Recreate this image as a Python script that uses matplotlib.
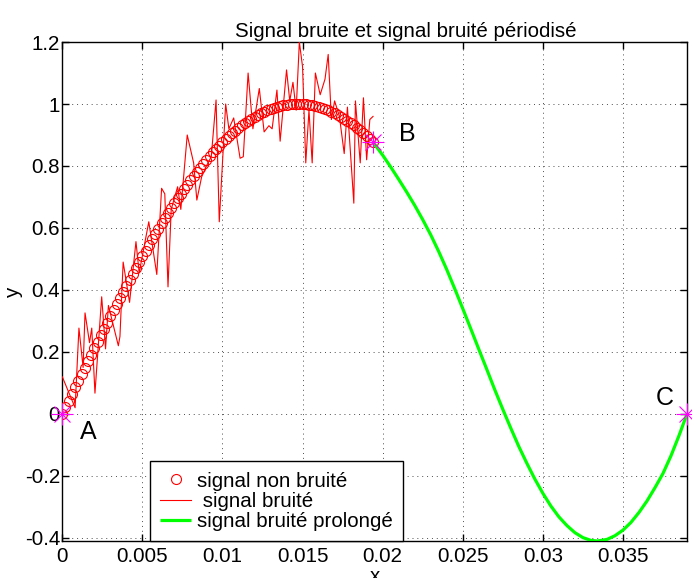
import matplotlib
matplotlib.use('Agg')
import matplotlib.pyplot as plt
import numpy as np

plt.rcParams['font.family'] = ['Liberation Sans', 'DejaVu Sans']
plt.rcParams['axes.unicode_minus'] = False

# ---------------- data ----------------
t_step = 0.0002
clean_y = [0.0000, 0.0214, 0.0427, 0.0640, 0.0853, 0.1066, 0.1278, 0.1490, 0.1701, 0.1911,
           0.2120, 0.2328, 0.2536, 0.2742, 0.2946, 0.3150, 0.3352, 0.3552, 0.3751, 0.3948,
           0.4144, 0.4337, 0.4529, 0.4718, 0.4905, 0.5090, 0.5273, 0.5453, 0.5631, 0.5807,
           0.5979, 0.6149, 0.6316, 0.6481, 0.6642, 0.6800, 0.6955, 0.7107, 0.7256, 0.7401,
           0.7543, 0.7681, 0.7816, 0.7947, 0.8075, 0.8200, 0.8319, 0.8436, 0.8548, 0.8657,
           0.8763, 0.8863, 0.8961, 0.9054, 0.9142, 0.9227, 0.9307, 0.9383, 0.9455, 0.9522,
           0.9586, 0.9644, 0.9698, 0.9748, 0.9794, 0.9835, 0.9871, 0.9903, 0.9930, 0.9953,
           0.9972, 0.9985, 0.9995, 0.9999, 1.0000, 0.9995, 0.9986, 0.9973, 0.9954, 0.9932,
           0.9905, 0.9873, 0.9837, 0.9796, 0.9751, 0.9701, 0.9647, 0.9589, 0.9526, 0.9459,
           0.9387, 0.9312, 0.9232, 0.9147, 0.9059, 0.8966, 0.8870, 0.8769]
clean_x = np.arange(len(clean_y)) * t_step

noisy_x = [0.0000, 0.0008, 0.00104, 0.0013, 0.00142, 0.0017, 0.00184, 0.00204, 0.00246, 0.0027,
           0.00288, 0.0035, 0.0036, 0.0038, 0.0042, 0.0046, 0.0048, 0.0054, 0.0059, 0.0062,
           0.0064, 0.0066, 0.0068, 0.0072, 0.0074, 0.0078, 0.0082, 0.0084, 0.0087, 0.0090,
           0.0093, 0.0096, 0.0098, 0.0102, 0.0104, 0.0107, 0.0111, 0.0113, 0.0116, 0.0119,
           0.0123, 0.0126, 0.0129, 0.0131, 0.0134, 0.0136, 0.0140, 0.0142, 0.0144, 0.0146,
           0.0148, 0.0150, 0.0152, 0.0154, 0.0156, 0.0158, 0.0161, 0.0164, 0.0166, 0.0168,
           0.0170, 0.0173, 0.0176, 0.0178, 0.0182, 0.0183, 0.0186, 0.0188, 0.0190, 0.0192,
           0.0194]
noisy_y = [0.12, 0.02, 0.277, 0.15, 0.326, 0.23, 0.277, 0.067, 0.378, 0.21,
           0.35, 0.22, 0.25, 0.49, 0.36, 0.556, 0.455, 0.62, 0.45, 0.728,
           0.71, 0.41, 0.66, 0.733, 0.66, 0.90, 0.81, 0.69, 0.765, 0.80,
           0.83, 1.013, 0.62, 1.00, 0.92, 0.955, 0.825, 0.83, 1.10, 0.92,
           1.05, 0.91, 0.93, 0.92, 1.045, 0.88, 1.11, 1.01, 1.07, 0.98,
           1.20, 1.12, 0.81, 0.98, 0.81, 1.10, 1.03, 1.08, 1.16, 0.95,
           1.01, 0.96, 0.84, 0.99, 0.68, 1.01, 0.81, 1.02, 0.82, 0.95,
           0.96]

ext_x = [0.0194, 0.0200, 0.0205, 0.0210, 0.0215, 0.0220, 0.0225, 0.0230, 0.0235, 0.0240,
         0.0245, 0.0250, 0.0255, 0.0260, 0.0265, 0.0270, 0.0275, 0.0280, 0.0285, 0.0290,
         0.0295, 0.0300, 0.0305, 0.0310, 0.0315, 0.0320, 0.0325, 0.0330, 0.0334, 0.0340,
         0.0345, 0.0350, 0.0355, 0.0360, 0.0365, 0.0370, 0.0375, 0.0380, 0.0385, 0.0390]
ext_y = [0.877, 0.835, 0.797, 0.757, 0.716, 0.673, 0.627, 0.578, 0.524, 0.466,
         0.404, 0.340, 0.275, 0.209, 0.144, 0.078, 0.015, -0.046, -0.105, -0.159,
         -0.210, -0.256, -0.297, -0.332, -0.360, -0.383, -0.399, -0.408, -0.410, -0.405,
         -0.393, -0.375, -0.350, -0.318, -0.281, -0.238, -0.192, -0.135, -0.070, 0.0]

pts_x = [0.0, 0.0194, 0.039]
pts_y = [0.0, 0.877, 0.0]
pts_lbl = ['A', 'B', 'C']
lbl_x = [0.0016, 0.02154, 0.03758]
lbl_y = [-0.058, 0.903, 0.053]

xticks = [0, 0.005, 0.01, 0.015, 0.02, 0.025, 0.03, 0.035]
xticklabels = ['0', '0.005', '0.01', '0.015', '0.02', '0.025', '0.03', '0.035']
yticks = [-0.4, -0.2, 0, 0.2, 0.4, 0.6, 0.8, 1.0, 1.2]
yticklabels = ['-0.4', '-0.2', '0', '0.2', '0.4', '0.6', '0.8', '1', '1.2']

# ---------------- figure ----------------
fig = plt.figure(figsize=(6.92, 5.78), dpi=100)
ax = fig.add_axes([0.0900, 0.0640, 0.9028, 0.8633])

FS = 14.8
ax.plot(clean_x, clean_y, linestyle='none', marker='o', markersize=7.2,
        markerfacecolor='none', markeredgecolor='red', markeredgewidth=0.8,
        label='signal non bruité', zorder=3)
ax.plot(noisy_x, noisy_y, color='red', linewidth=0.8, label=' signal bruité', zorder=4)
ax.plot(ext_x, ext_y, color='#00ff00', linewidth=2.3, label='signal bruité prolongé',
        zorder=4, solid_capstyle='butt', solid_joinstyle='round')
ax.plot(pts_x, pts_y, linestyle='none', marker='+', markersize=16, markeredgewidth=0.8,
        color='magenta', zorder=6, clip_on=False)
ax.plot(pts_x, pts_y, linestyle='none', marker='x', markersize=11, markeredgewidth=0.8,
        color='magenta', zorder=6, clip_on=False)
for lx, ly, s in zip(lbl_x, lbl_y, pts_lbl):
    ax.text(lx, ly, s, fontsize=18, ha='center', va='center', color='black')

ax.set_xlim(0, 0.039)
ax.set_ylim(-0.41, 1.2)
ax.set_xticks(xticks)
ax.set_xticklabels(xticklabels)
ax.set_yticks(yticks)
ax.set_yticklabels(yticklabels)
ax.tick_params(direction='in', length=5, width=1, top=True, right=True, labelsize=FS)
ax.tick_params(axis='x', pad=4.0)
ax.tick_params(axis='y', pad=1.5)
for sp in ax.spines.values():
    sp.set_linewidth(1.0)
ax.grid(True, color='0.3', linestyle=(0, (1, 4)), linewidth=0.7)

ax.set_xlabel('x', fontsize=FS, labelpad=1)
ax.set_ylabel('y', fontsize=FS, labelpad=1)
fig.text(0.587, 0.936, 'Signal bruite et signal bruité périodisé', fontsize=FS,
         ha='center', va='baseline')

leg = ax.legend(loc='lower left', bbox_to_anchor=(0.1404, 0.0), fontsize=FS,
                frameon=True, fancybox=False, edgecolor='black', framealpha=1,
                borderpad=0.5, labelspacing=0.05, handlelength=1.5, handletextpad=0.3,
                borderaxespad=0.0, numpoints=1)
leg.get_frame().set_linewidth(1.0)

fig.savefig('out.png', dpi=100)
